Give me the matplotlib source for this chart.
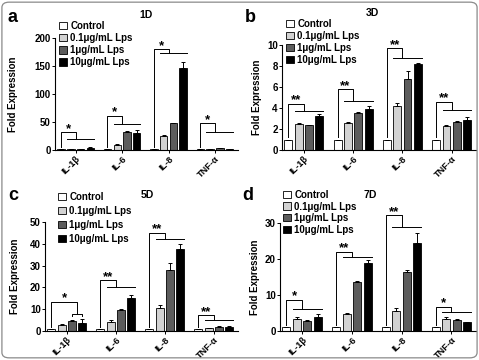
import matplotlib
matplotlib.use('Agg')
import matplotlib.pyplot as plt
from matplotlib.patches import Patch, FancyBboxPatch
import numpy as np

plt.rcParams['font.family'] = ['Liberation Sans', 'DejaVu Sans']
plt.rcParams['font.weight'] = 'bold'
plt.rcParams['font.size'] = 7

# Data
genes = ['IL-1β', 'IL-6', 'IL-8', 'TNF-α']
doses = ['Control', '0.1μg/mL Lps', '1μg/mL Lps', '10μg/mL Lps']
colors = ['white', '#d2d2d2', '#5c5c5c', 'black']

# values[gene][dose]
d1_vals = [[1, 1.5, 2, 4], [1, 9, 32, 31], [1, 25, 48, 146], [1, 2, 3, 2]]
d1_err = [[0, 0.2, 0.2, 0.5], [0, 1, 1.5, 4], [0, 1.5, 1, 12], [0, 0.3, 0.5, 0.4]]
d3_vals = [[1, 2.5, 2.4, 3.2], [1, 2.6, 3.5, 3.95], [1, 4.2, 6.8, 8.2], [1, 2.3, 2.65, 2.9]]
d3_err = [[0, 0.05, 0.02, 0.25], [0, 0.05, 0.12, 0.2], [0, 0.3, 0.7, 0.1], [0, 0.05, 0.15, 0.2]]
d5_vals = [[1, 2.7, 4.4, 3.8], [1, 4.2, 9.5, 15], [1, 10.5, 28, 37.5], [1, 1.5, 2, 2]]
d5_err = [[0, 0.5, 0.5, 1.5], [0, 0.8, 0.7, 1.5], [0, 1.5, 3, 2.5], [0, 0.1, 0.2, 0.2]]
d7_vals = [[1, 3.4, 2.8, 4], [1, 4.8, 13.6, 19], [1, 5.5, 16.3, 24.5], [1, 3.3, 3, 2.4]]
d7_err = [[0, 0.4, 0.2, 0.8], [0, 0.2, 0.2, 0.6], [0, 1.0, 0.7, 2.8], [0, 0.5, 0.3, 0.2]]

# significance brackets: (upper height, lower height, stars)
d1_sig = [(32, 20, '*'), (61, 46, '*'), (180, 173, '*'), (48, 32, '*')]
d3_sig = [(4.4, 3.7, '**'), (5.8, 4.7, '**'), (9.7, 8.8, '**'), (4.6, 3.8, '**')]
d5_sig = [(13.5, 7.7, '*'), (23.4, 20.3, '**'), (45, 42, '**'), (7.2, 5, '**')]
d7_sig = [(8.7, 6, '*'), (22, 20.5, '**'), (32.2, 29, '**'), (6.8, 5.2, '*')]

panels = [
    ('a', '1D', d1_vals, d1_err, d1_sig, [0, 50, 100, 150, 200]),
    ('b', '3D', d3_vals, d3_err, d3_sig, [0, 2, 4, 6, 8, 10]),
    ('c', '5D', d5_vals, d5_err, d5_sig, [0, 10, 20, 30, 40, 50]),
    ('d', '7D', d7_vals, d7_err, d7_sig, [0, 10, 20, 30]),
]

W, H = 479, 360
# axes rectangles in pixels: left, right, bottom(from top), top(from top)
ax_px = [(55, 238, 150, 38), (282, 476, 150, 45), (45, 238, 331, 222), (280, 476, 331, 223)]
title_px = [(146, 15), (372, 13), (147, 195), (370, 195)]
letter_px = [(13, 18), (250, 17), (13, 196), (248, 195)]
legend_px = [(59, 21), (286, 19), (58, 192), (283, 190)]
legend_space = [0.22, 0.2, 0.4, 0.16]
ylabel_x = [18, 262, 20, 260]

fig = plt.figure(figsize=(W / 100, H / 100), dpi=100)
fig.patches.append(FancyBboxPatch((0.004, 0.006), 0.992, 0.988, boxstyle='round,pad=0,rounding_size=0.015',
                                  transform=fig.transFigure, facecolor='none', edgecolor='#8a8a8a', lw=0.9))

pitch = 0.21
width = 0.16
offsets = (np.arange(4) - 1.5) * pitch
xg = np.arange(len(genes))

for k, (letter, title, vals, errs, sig, yt) in enumerate(panels):
    l, r, b, t = ax_px[k]
    ax = fig.add_axes([l / W, 1 - b / H, (r - l) / W, (b - t) / H])
    vals = np.array(vals)
    errs = np.array(errs)
    for j in range(4):
        x = xg + offsets[j]
        ax.bar(x, vals[:, j], width, color=colors[j], edgecolor='black', linewidth=0.6, zorder=2)
        ax.errorbar(x, vals[:, j], yerr=[np.zeros(4), errs[:, j]], fmt='none', ecolor='black',
                    elinewidth=0.7, capsize=1.5, capthick=0.7, zorder=3)
    # brackets
    for g in range(4):
        h1, h2, stars = sig[g]
        x0 = xg[g] + offsets[0]
        xm = xg[g]
        lw = 0.7
        if k == 2 and g == 0:
            xm = xg[g] + (offsets[2] + offsets[3]) / 2
            ax.plot([x0, x0, xm, xm], [vals[g, 0] + 0.8, h1, h1, h2], color='black', lw=lw, clip_on=False)
            ax.plot([xg[g] + offsets[2], xg[g] + offsets[2], xg[g] + offsets[3], xg[g] + offsets[3]],
                    [h2 - 1.0, h2, h2, h2 - 1.0], color='black', lw=lw, clip_on=False)
        else:
            ylo = vals[g, 0] + (yt[-1] * 0.02)
            ax.plot([x0, x0, xm, xm], [ylo, h1, h1, h2], color='black', lw=lw, clip_on=False)
            ax.plot([xg[g] + offsets[1] - width / 2, xg[g] + offsets[3] + width / 2], [h2, h2],
                    color='black', lw=lw, clip_on=False)
        ax.text((x0 + xm) / 2, h1 - yt[-1] * 0.025, stars, ha='center', va='bottom', fontsize=9.5,
                fontweight='bold')
    ax.set_xlim(xg[0] + offsets[0] - width / 2 - 0.05, xg[-1] + offsets[3] + width / 2 + 0.1)
    ax.set_ylim(0, yt[-1])
    ax.set_yticks(yt)
    ax.set_xticks(xg)
    ax.set_xticklabels(genes, rotation=45, ha='right', rotation_mode='anchor')
    ax.tick_params(axis='both', length=2, width=0.7, pad=1, labelsize=7)
    ax.tick_params(axis='x', labelsize=6.6)
    for s in ['top', 'right']:
        ax.spines[s].set_visible(False)
    for s in ['left', 'bottom']:
        ax.spines[s].set_linewidth(0.8)
    ax.set_ylabel('Fold Expression', fontsize=7, fontweight='bold')
    ax.yaxis.set_label_coords((ylabel_x[k] - l) / (r - l), 0.5)
    handles = [Patch(facecolor=colors[j], edgecolor='black', linewidth=0.6, label=doses[j]) for j in range(4)]
    lx, ly = legend_px[k]
    ax.legend(handles=handles, loc='upper left', bbox_to_anchor=(lx / W, 1 - ly / H),
              bbox_transform=fig.transFigure, frameon=False, fontsize=7, handlelength=0.8,
              handleheight=0.8, handletextpad=0.35, labelspacing=legend_space[k], borderpad=0,
              borderaxespad=0)
    tx, ty = title_px[k]
    fig.text(tx / W, 1 - ty / H, title, ha='center', va='center', fontsize=7.5, fontweight='bold')
    px, py = letter_px[k]
    fig.text(px / W, 1 - py / H, letter, ha='center', va='center', fontsize=13, fontweight='bold')

fig.savefig('out.png', dpi=100)
